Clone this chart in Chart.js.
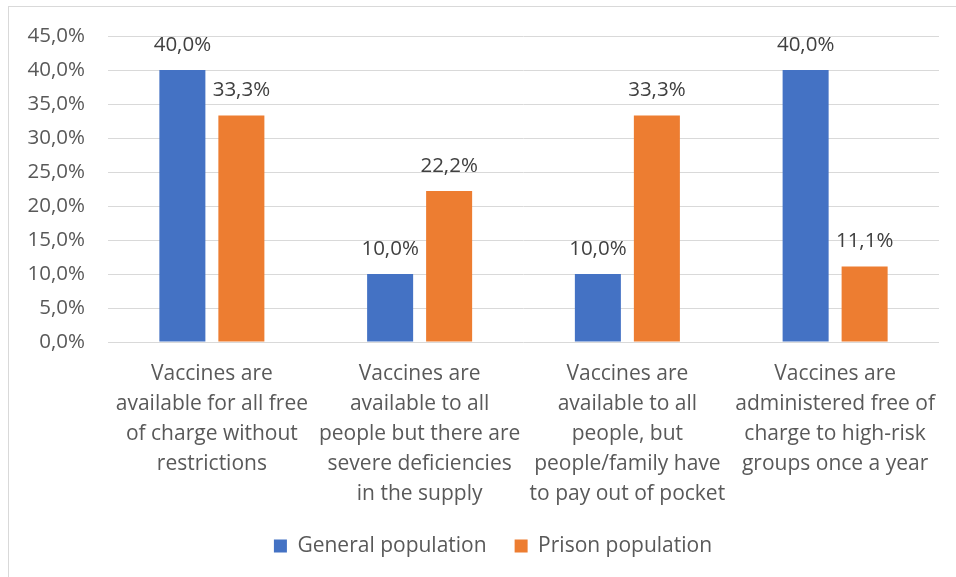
<!DOCTYPE html>
<html>
<head>
<meta charset="utf-8">
<script src="https://cdn.jsdelivr.net/npm/chart.js@4"></script>
<style>
  html, body { margin: 0; padding: 0; background: #fff; overflow: hidden; }
  #wrap { position: relative; width: 956px; height: 577px; }
  #frame { position: absolute; left: 8px; top: 6px; width: 960px; height: 600px; border: 1px solid #d9d9d9; pointer-events: none; }
</style>
</head>
<body>
<div id="wrap">
  <canvas id="chart" width="956" height="577"></canvas>
  <div id="frame"></div>
</div>
<script>
// categories (split into lines as in the original)
const categories = [
    ['Vaccines are', 'available for all free', 'of charge without', 'restrictions'],
    ['Vaccines are', 'available to all', 'people but there are', 'severe deficiencies', 'in the supply'],
    ['Vaccines are', 'available to all', 'people, but', 'people/family have', 'to pay out of pocket'],
    ['Vaccines are', 'administered free of', 'charge to high-risk', 'groups once a year']
];
const generalPopulation = [40.0, 10.0, 10.0, 40.0];
const prisonPopulation = [33.3, 22.2, 33.3, 11.1];
const seriesNames = ['General population', 'Prison population'];
const yMax = 45;
const yStep = 5;

const FONT = '"Open Sans", sans-serif';
const fmt = v => v.toFixed(1).replace('.', ',') + '%';

// draws value labels above each bar
const valueLabels = {
    id: 'valueLabels',
    afterDatasetsDraw(chart) {
        const ctx = chart.ctx;
        ctx.save();
        ctx.font = '20.5px ' + FONT;
        ctx.fillStyle = '#404040';
        ctx.textAlign = 'center';
        ctx.textBaseline = 'middle';
        chart.data.datasets.forEach((ds, i) => {
            chart.getDatasetMeta(i).data.forEach((bar, j) => {
                ctx.fillText(fmt(ds.data[j]), bar.x, bar.y - 25);
            });
        });
        ctx.restore();
    }
};

// legend is centred under the plot area rather than the whole canvas
const legendShift = {
    id: 'legendShift',
    afterLayout(chart) {
        chart.legend.left += 47;
    }
};

new Chart(document.getElementById('chart'), {
    type: 'bar',
    data: {
        labels: categories,
        datasets: [
            { label: seriesNames[0], data: generalPopulation, backgroundColor: '#4472C4' },
            { label: seriesNames[1], data: prisonPopulation, backgroundColor: '#ED7D31' }
        ]
    },
    options: {
        responsive: false,
        animation: false,
        layout: { padding: { top: 36, left: 0, right: 17, bottom: 10.5 } },
        categoryPercentage: 0.568,
        barPercentage: 0.78,
        scales: {
            x: {
                grid: { display: false },
                border: { display: false },
                ticks: {
                    color: '#595959',
                    font: { family: FONT, size: 21, lineHeight: 1.43 },
                    padding: 9,
                    maxRotation: 0,
                    autoSkip: false
                },
                afterFit(scale) { scale.height = 165.5; }
            },
            y: {
                min: 0,
                max: yMax,
                grid: { color: '#d9d9d9', lineWidth: 1, drawTicks: false },
                border: { display: false },
                ticks: {
                    stepSize: yStep,
                    color: '#595959',
                    font: { family: FONT, size: 20.5 },
                    padding: 23,
                    callback: v => fmt(v)
                },
                afterFit(scale) { scale.width = 108; }
            }
        },
        plugins: {
            legend: {
                position: 'bottom',
                labels: {
                    color: '#595959',
                    font: { family: FONT, size: 21 },
                    boxWidth: 13,
                    boxHeight: 13,
                    padding: 28
                }
            },
            tooltip: { enabled: false }
        }
    },
    plugins: [valueLabels, legendShift]
});
</script>
</body>
</html>
